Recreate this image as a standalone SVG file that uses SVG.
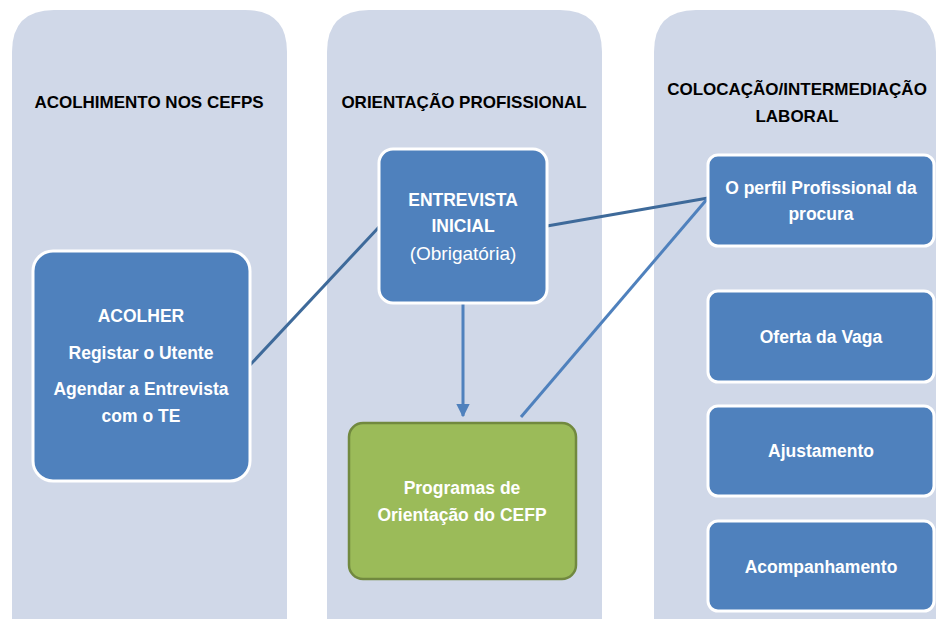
<svg xmlns="http://www.w3.org/2000/svg" width="936" height="619" viewBox="0 0 936 619">
<defs>
<style>
.col{fill:#D0D8E8}
.hdr{font-family:"Liberation Sans",Arial,sans-serif;font-weight:bold;font-size:17px;fill:#000;text-anchor:middle}
.box{fill:#4F81BD;stroke:#FFFFFF;stroke-width:3}
.gbox{fill:#9BBB59;stroke:#71893F;stroke-width:2.5}
.t{font-family:"Liberation Sans",Arial,sans-serif;font-weight:bold;font-size:17.5px;fill:#FFFFFF;text-anchor:middle}
.tn{font-family:"Liberation Sans",Arial,sans-serif;font-weight:normal;font-size:19px;fill:#FFFFFF;text-anchor:middle}
.c1{stroke:#3E6A9A;stroke-width:3;fill:none}
.c2{stroke:#4F81BD;stroke-width:3;fill:none}
</style>
<marker id="arr" viewBox="0 0 10 10" refX="9" refY="5" markerWidth="4.5" markerHeight="4.5" orient="auto" markerUnits="strokeWidth">
<path d="M0,0 L10,5 L0,10 z" fill="#4F81BD"/>
</marker>
</defs>
<rect width="936" height="619" fill="#FFFFFF"/>
<g id="columns">
<path class="col" d="M12,619 V52 Q12,10 54,10 H245 Q287,10 287,52 V619 Z"/>
<path class="col" d="M327,619 V52 Q327,10 369,10 H560 Q602,10 602,52 V619 Z"/>
<path class="col" d="M654,619 V52 Q654,10 696,10 H894 Q936,10 936,52 V619 Z"/>
</g>
<g id="headers">
<text class="hdr" x="149" y="108">ACOLHIMENTO NOS CEFPS</text>
<text class="hdr" x="464" y="108">ORIENTAÇÃO PROFISSIONAL</text>
<text class="hdr" x="797" y="95">COLOCAÇÃO/INTERMEDIAÇÃO</text>
<text class="hdr" x="797" y="122">LABORAL</text>
</g>
<g id="connectors">
<line class="c1" x1="250" y1="365" x2="379" y2="227"/>
<line class="c1" x1="547" y1="226" x2="708" y2="198"/>
<line class="c2" x1="521" y1="417" x2="708" y2="198" stroke-width="2.5"/>
<line class="c2" x1="463" y1="304" x2="463" y2="416" marker-end="url(#arr)"/>
</g>
<g id="acolher">
<rect class="box" x="33" y="251" width="217" height="230" rx="20"/>
<text class="t" x="141" y="322">ACOLHER</text>
<text class="t" x="141" y="359">Registar o Utente</text>
<text class="t" x="141" y="395">Agendar a Entrevista</text>
<text class="t" x="141" y="422">com o TE</text>
</g>
<g id="entrevista">
<rect class="box" x="379" y="149" width="168" height="154" rx="14"/>
<text class="t" x="463" y="206">ENTREVISTA</text>
<text class="t" x="463" y="232">INICIAL</text>
<text class="tn" x="463" y="260">(Obrigatória)</text>
</g>
<g id="programas">
<rect class="gbox" x="349" y="423" width="227" height="156" rx="14"/>
<text class="t" x="462" y="494">Programas de</text>
<text class="t" x="462" y="521">Orientação do CEFP</text>
</g>
<g id="perfil">
<rect class="box" x="708" y="155" width="226" height="91" rx="10"/>
<text class="t" x="821" y="194">O perfil Profissional da</text>
<text class="t" x="821" y="220">procura</text>
</g>
<g id="oferta">
<rect class="box" x="708" y="291" width="226" height="91" rx="10"/>
<text class="t" x="821" y="343">Oferta da Vaga</text>
</g>
<g id="ajustamento">
<rect class="box" x="708" y="406" width="226" height="90" rx="10"/>
<text class="t" x="821" y="457">Ajustamento</text>
</g>
<g id="acompanhamento">
<rect class="box" x="708" y="521" width="226" height="90" rx="10"/>
<text class="t" x="821" y="573">Acompanhamento</text>
</g>
</svg>
